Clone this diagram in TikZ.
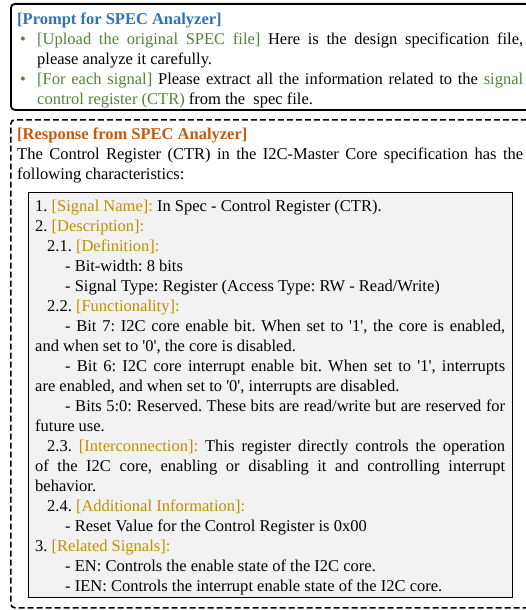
\documentclass[tikz,border=0pt]{standalone}
\usepackage{fontspec}
\setmainfont{Liberation Serif}
\usetikzlibrary{positioning,shadows}
\definecolor{titleblue}{RGB}{46,116,181}
\definecolor{taskgreen}{RGB}{84,130,53}
\definecolor{replyorange}{RGB}{197,90,17}
\definecolor{fieldgold}{RGB}{191,144,0}
\definecolor{panelgray}{RGB}{242,242,242}
\newcommand{\fld}[1]{\textcolor{fieldgold}{#1}}
\newcommand{\tsk}[1]{\textcolor{taskgreen}{#1}}
\newcommand{\ql}{\textquotesingle}
\newcommand{\bul}{\par\noindent\hangindent=20pt\hangafter=1\makebox[20pt][l]{\hspace{3pt}\tsk{•}}}
\newcommand{\lvA}{\par\noindent\hspace*{12pt}}
\newcommand{\lvB}{\par\noindent\hspace*{30pt}}
\begin{document}
\begin{tikzpicture}
[x=1pt,y=-1pt,
 every node/.style=
   {font=\fontsize{16.5}{20}\selectfont\frenchspacing,inner sep=0pt,anchor=north west},
 promptbox/.style={draw=black,line width=1.8pt,rounded corners=4pt,
   minimum width=520pt,minimum height=106pt},
 replybox/.style={draw=black,line width=1.6pt,dash pattern=on 6pt off 3pt,
   rounded corners=4pt,minimum width=520pt,minimum height=488pt},
 panel/.style={draw=black,line width=0.9pt,fill=panelgray,
   drop shadow={shadow xshift=1pt,shadow yshift=-1pt,fill=black!85,opacity=1},
   minimum width=484pt,minimum height=405pt},
 body/.style={align=justify,text width=#1}]
\useasboundingbox (0,0) rectangle (526,610);
\node [promptbox] (prompt) at (10,3) {};
\node [body=506pt] (prompttext) at (17,10)
  {\strut\textcolor{titleblue}{\textbf{[Prompt for SPEC Analyzer]}}
   \bul\tsk{[Upload the original SPEC file]} Here is the design specification file,\linebreak
   please analyze it carefully.
   \bul\tsk{[For each signal]} Please extract all the information related to the \tsk{signal}\linebreak
   \tsk{control register (CTR)} from the\ \ spec file.\par};
\node [replybox] (reply) at (10,119) {};
\node [body=506pt] (replytext) at (17,125)
  {\strut\textcolor{replyorange}{\textbf{[Response from SPEC Analyzer]}}\par\noindent
   The Control Register (CTR) in the I2C-Master Core specification has the\linebreak
   following characteristics:\par};
\node [panel] (details) at (28,192) {};
\node [body=470pt] (detailtext) at (35,197)
  {\strut 1. \fld{[Signal Name]:} In Spec - Control Register (CTR).
   \par\noindent 2. \fld{[Description]:}
   \lvA 2.1. \fld{[Definition]:}
   \lvB - Bit-width: 8 bits
   \lvB - Signal Type: Register (Access Type: RW - Read/Write)
   \lvA 2.2. \fld{[Functionality]:}
   \lvB - Bit 7: I2C core enable bit. When set to \ql1\ql, the core is enabled,\linebreak
   and when set to \ql0\ql, the core is disabled.
   \lvB - Bit 6: I2C core interrupt enable bit. When set to \ql1\ql, interrupts\linebreak
   are enabled, and when set to \ql0\ql, interrupts are disabled.
   \lvB - Bits 5:0: Reserved. These bits are read/write but are reserved for\linebreak
   future use.
   \lvA 2.3. \fld{[Interconnection]:} This register directly controls the operation\linebreak
   of the I2C core, enabling or disabling it and controlling interrupt\linebreak
   behavior.
   \lvA 2.4. \fld{[Additional Information]:}
   \lvB - Reset Value for the Control Register is 0x00
   \par\noindent 3. \fld{[Related Signals]:}
   \lvB - EN: Controls the enable state of the I2C core.
   \lvB - IEN: Controls the interrupt enable state of the I2C core.\par};
\end{tikzpicture}
\end{document}
